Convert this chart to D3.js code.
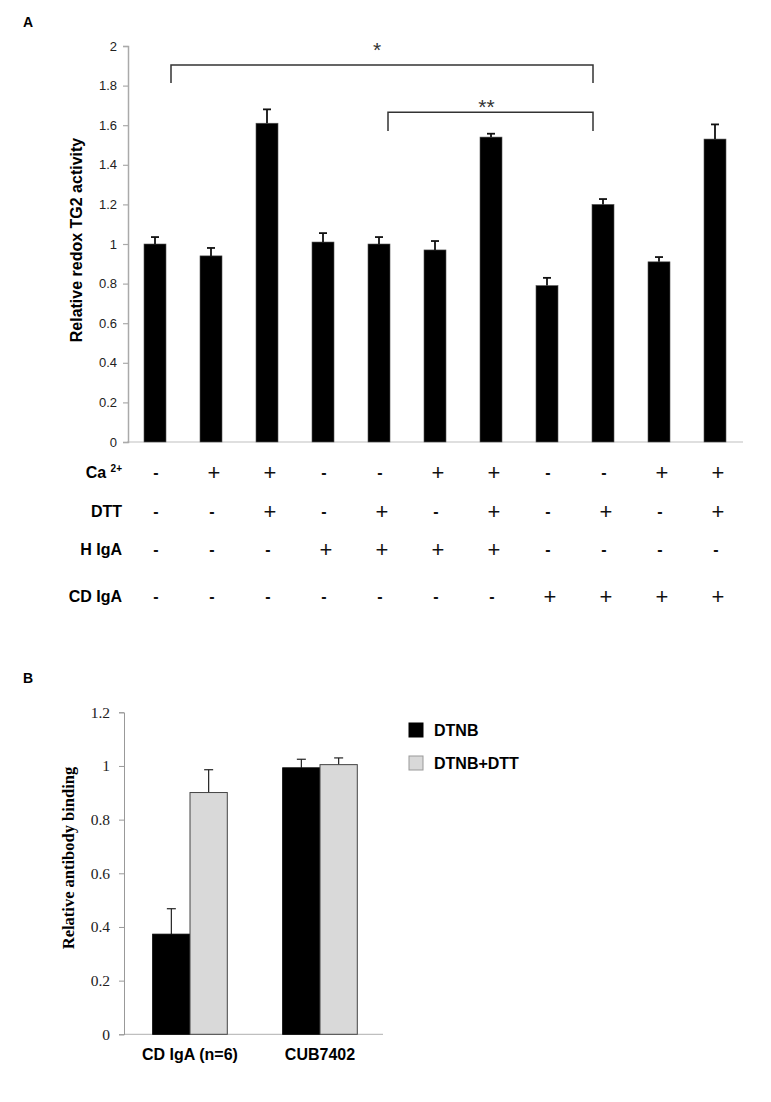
<!DOCTYPE html>
<html>
<head>
<meta charset="utf-8">
<script src="https://cdn.jsdelivr.net/npm/d3@7"></script>
<style>
  html, body { margin: 0; padding: 0; background: #fff; }
  svg { display: block; }
</style>
</head>
<body>
<svg id="chart" width="771" height="1102"></svg>
<script>
// ---------- Panel A data ----------
const conditionsA = ["c1","c2","c3","c4","c5","c6","c7","c8","c9","c10","c11"];
const valuesA = [1.00, 0.94, 1.61, 1.01, 1.00, 0.97, 1.54, 0.79, 1.20, 0.91, 1.53];
const errorsA = [0.035, 0.04, 0.07, 0.045, 0.035, 0.045, 0.017, 0.039, 0.027, 0.024, 0.074];
const ticksA = [0, 0.2, 0.4, 0.6, 0.8, 1, 1.2, 1.4, 1.6, 1.8, 2];
const rowLabelsA = ["Ca", "DTT", "H IgA", "CD IgA"];
const caRow    = ["-","+","+","-","-","+","+","-","-","+","+"];
const dttRow   = ["-","-","+","-","+","-","+","-","+","-","+"];
const hIgARow  = ["-","-","-","+","+","+","+","-","-","-","-"];
const cdIgARow = ["-","-","-","-","-","-","-","+","+","+","+"];
const bracketsA = [
  { from: 0, to: 8, level: 1.904, leg: 1.813, label: "*", labelAt: 2.0 },
  { from: 4, to: 8, level: 1.665, leg: 1.571, label: "**", labelAt: 1.71 }
];
const yLabelA = "Relative redox TG2 activity";

// ---------- Panel B data ----------
const groupsB = ["CD IgA (n=6)", "CUB7402"];
const seriesB = ["DTNB", "DTNB+DTT"];
const dtnbValues = [0.373, 0.993];
const dtnbErrors = [0.095, 0.032];
const dtnbDttValues = [0.901, 1.005];
const dtnbDttErrors = [0.085, 0.025];
const ticksB = [0, 0.2, 0.4, 0.6, 0.8, 1, 1.2];
const yLabelB = "Relative antibody binding";

const svg = d3.select("#chart");
svg.append("rect").attr("width", 771).attr("height", 1102).attr("fill", "#fff");

const sans = "Liberation Sans, Arial, Helvetica, sans-serif";
const serif = "Liberation Serif, Times New Roman, serif";

// ================= Panel A =================
svg.append("text").attr("x", 23).attr("y", 27).text("A")
  .attr("font-family", sans).attr("font-weight", "bold").attr("font-size", 14);

const yA = d3.scaleLinear().domain([0, 2]).range([442, 46]);
const xA = d3.scaleBand().domain(conditionsA).range([127, 743])
  .paddingInner(0.607).paddingOuter(0.3035);
const cx = i => xA(conditionsA[i]) + xA.bandwidth() / 2;

// x baseline
svg.append("line").attr("x1", xA.range()[0]).attr("x2", xA.range()[1])
  .attr("y1", yA(0)).attr("y2", yA(0)).attr("stroke", "#d4d4d4").attr("stroke-width", 1.5);

// y axis
const gyA = svg.append("g").attr("transform", "translate(128,0)")
  .call(d3.axisLeft(yA).tickValues(ticksA).tickSize(5).tickPadding(6).tickFormat(d => String(d)));
gyA.select(".domain").attr("stroke", "#aaa").attr("stroke-width", 1.5);
gyA.selectAll(".tick line").attr("stroke", "#aaa").attr("stroke-width", 1.2);
gyA.selectAll(".tick text").attr("font-family", sans).attr("font-size", 13).attr("fill", "#222");

// y label
svg.append("text")
  .attr("transform", `translate(82,240) rotate(-90)`)
  .attr("text-anchor", "middle")
  .attr("font-family", sans).attr("font-weight", "bold").attr("font-size", 16)
  .text(yLabelA);

// bars
svg.append("g").selectAll("rect").data(valuesA).join("rect")
  .attr("x", (d, i) => xA(conditionsA[i]))
  .attr("y", d => yA(d))
  .attr("width", xA.bandwidth())
  .attr("height", d => yA(0) - yA(d))
  .attr("fill", "#000").attr("stroke", "#555").attr("stroke-width", 0.6);

// error bars
const errA = svg.append("g").attr("stroke", "#111").attr("stroke-width", 1.8);
valuesA.forEach((v, i) => {
  const x = cx(i), top = yA(v + errorsA[i]);
  errA.append("line").attr("x1", x).attr("x2", x).attr("y1", yA(v)).attr("y2", top);
  errA.append("line").attr("x1", x - 4).attr("x2", x + 4).attr("y1", top).attr("y2", top);
});

// significance brackets
bracketsA.forEach((b, k) => {
  const x1 = cx(b.from) + (k === 0 ? 16 : 9);
  const x2 = cx(b.to) - 10;
  svg.append("path")
    .attr("d", `M${x1},${yA(b.leg)}V${yA(b.level)}H${x2}V${yA(b.leg)}`)
    .attr("fill", "none").attr("stroke", "#333").attr("stroke-width", 1.5);
  svg.append("text").attr("x", (x1 + x2) / 2 - (k === 0 ? 5 : 4)).attr("y", yA(b.labelAt) + 11)
    .attr("text-anchor", "middle").attr("font-family", sans).attr("font-size", 21)
    .attr("fill", "#333").text(b.label);
});

// condition table
const rowsA = [caRow, dttRow, hIgARow, cdIgARow];
const rowY = [472, 511, 549, 596];
rowsA.forEach((row, r) => {
  const lab = svg.append("text").attr("x", 122).attr("y", rowY[r] + 6)
    .attr("text-anchor", "end").attr("font-family", sans).attr("font-weight", "bold")
    .attr("font-size", 16).text(rowLabelsA[r]);
  if (r === 0) {
    lab.append("tspan").text(" ");
    lab.append("tspan").attr("font-size", 10).attr("dy", -6).text("2+");
  }
  row.forEach((s, i) => {
    if (s === "+") {
      svg.append("text").attr("x", cx(i) + 3).attr("y", rowY[r] + 8)
        .attr("text-anchor", "middle").attr("font-family", sans).attr("font-size", 22)
        .attr("fill", "#111").text("+");
    } else {
      svg.append("text").attr("x", cx(i) + 1).attr("y", rowY[r] + 6)
        .attr("text-anchor", "middle").attr("font-family", sans).attr("font-weight", "bold")
        .attr("font-size", 16).attr("fill", "#111").text("-");
    }
  });
});

// ================= Panel B =================
svg.append("text").attr("x", 23).attr("y", 683).text("B")
  .attr("font-family", sans).attr("font-weight", "bold").attr("font-size", 14);

const yB = d3.scaleLinear().domain([0, 1.2]).range([1034.3, 712.3]);
const xB = d3.scaleBand().domain(groupsB).range([125, 385]).padding(0);
const x1B = d3.scaleBand().domain(seriesB).range([-37.3, 37.3]).padding(0);
const colorB = d3.scaleOrdinal().domain(seriesB).range(["#000", "#d9d9d9"]);

svg.append("line").attr("x1", 124).attr("x2", 383)
  .attr("y1", yB(0)).attr("y2", yB(0)).attr("stroke", "#b0b0b0").attr("stroke-width", 1);

const gyB = svg.append("g").attr("transform", "translate(124,0)")
  .call(d3.axisLeft(yB).tickValues(ticksB).tickSize(5).tickPadding(9).tickFormat(d => String(d)));
gyB.select(".domain").attr("stroke", "#999").attr("stroke-width", 1);
gyB.selectAll(".tick line").attr("stroke", "#999");
gyB.selectAll(".tick text").attr("font-family", serif).attr("font-size", 15.5).attr("fill", "#222");

svg.append("text")
  .attr("transform", `translate(74,858) rotate(-90)`)
  .attr("text-anchor", "middle")
  .attr("font-family", serif).attr("font-weight", "bold").attr("font-size", 16.5)
  .text(yLabelB);

const dataB = [];
groupsB.forEach((g, gi) => {
  dataB.push({ g, s: seriesB[0], v: dtnbValues[gi], e: dtnbErrors[gi] });
  dataB.push({ g, s: seriesB[1], v: dtnbDttValues[gi], e: dtnbDttErrors[gi] });
});
const barX = d => xB(d.g) + xB.bandwidth() / 2 + x1B(d.s);

dataB.forEach(d => {
  const x = barX(d) + x1B.bandwidth() / 2, top = yB(d.v + d.e);
  svg.append("line").attr("x1", x).attr("x2", x).attr("y1", yB(d.v)).attr("y2", top)
    .attr("stroke", "#222").attr("stroke-width", 1.2);
  svg.append("line").attr("x1", x - 4.5).attr("x2", x + 4.5).attr("y1", top).attr("y2", top)
    .attr("stroke", "#222").attr("stroke-width", 1.2);
});

svg.append("g").selectAll("rect").data(dataB).join("rect")
  .attr("x", barX)
  .attr("y", d => yB(d.v))
  .attr("width", x1B.bandwidth())
  .attr("height", d => yB(0) - yB(d.v))
  .attr("fill", d => colorB(d.s))
  .attr("stroke", d => d.s === seriesB[0] ? "#000" : "#444")
  .attr("stroke-width", 1);

groupsB.forEach(g => {
  svg.append("text").attr("x", xB(g) + xB.bandwidth() / 2).attr("y", 1060)
    .attr("text-anchor", "middle").attr("font-family", sans).attr("font-weight", "bold")
    .attr("font-size", 16).text(g);
});

// legend
seriesB.forEach((s, i) => {
  const ly = 723 + i * 33;
  svg.append("rect").attr("x", 409).attr("y", ly).attr("width", 14).attr("height", 14)
    .attr("fill", colorB(s)).attr("stroke", i === 0 ? "#000" : "#999").attr("stroke-width", 1);
  svg.append("text").attr("x", 434).attr("y", ly + 13).attr("font-family", sans)
    .attr("font-weight", "bold").attr("font-size", 16).text(s);
});
</script>
</body>
</html>
